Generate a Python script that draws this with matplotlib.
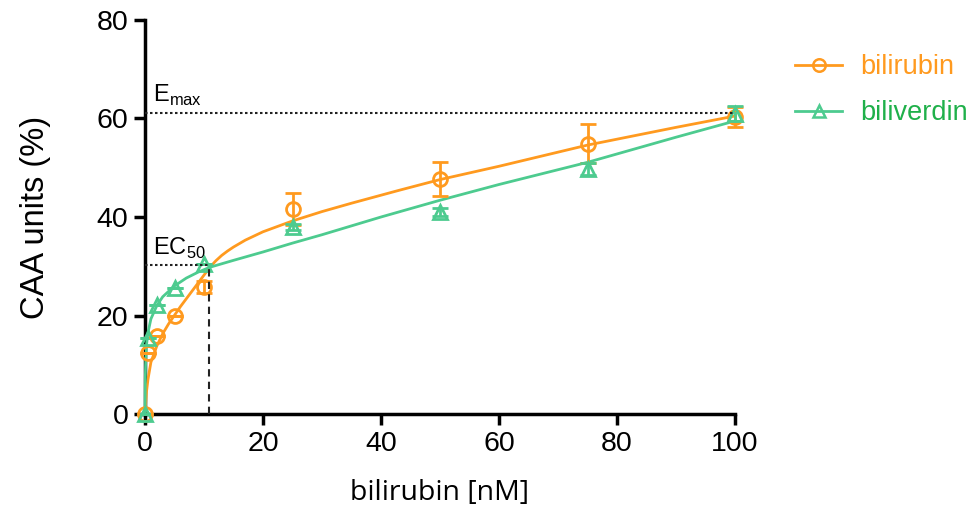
import matplotlib
matplotlib.use("Agg")
import matplotlib.pyplot as plt

# ---- data ----
conc = [0, 0.5, 2, 5, 10, 25, 50, 75, 100]
bilirubin_y = [0, 12.3, 15.8, 19.8, 25.8, 41.6, 47.7, 54.9, 60.3]
bilirubin_err = [0, 0, 0, 0, 1.3, 3.2, 3.4, 4.0, 2.1]
biliverdin_y = [0, 15.4, 22.2, 25.6, 30.5, 37.9, 41.1, 49.7, 61.0]
biliverdin_err = [0, 0, 0, 0, 0, 0.6, 0.8, 1.2, 1.6]

# fitted curves
fit_x_bilirubin = [0, 0.25, 0.5, 1, 2, 3, 4, 6, 8, 10, 11, 12, 13, 14, 15, 17, 20, 25, 30, 35, 43, 50, 60, 75, 90, 100]
fit_y_bilirubin = [0, 4.5, 7, 10.5, 13.8, 16.3, 18.3, 21.8, 25.0, 28.2, 29.8, 31.1, 32.2, 33.1, 33.9, 35.3, 37.0, 39.2, 41.1, 42.8, 45.4, 47.6, 50.3, 54.6, 58.2, 60.5]
fit_x_biliverdin = [0, 0.05, 0.1, 0.25, 0.5, 1, 2, 3, 5, 7, 9, 11, 15, 20, 25, 30, 40, 50, 60, 75, 90, 100]
fit_y_biliverdin = [0, 7, 10, 14.0, 16.5, 19.3, 22.0, 23.8, 26.0, 27.6, 28.8, 29.8, 31.2, 32.9, 34.7, 36.4, 40.0, 43.4, 46.6, 51.1, 56.2, 59.5]

emax = 61.2
ec50_x = 10.8
ec50_y = 30.3

x_ticks = [0, 20, 40, 60, 80, 100]
y_ticks = [0, 20, 40, 60, 80]

ORANGE = "#FF9A1F"
GREEN = "#4DCB8F"
GREEN_TEXT = "#1FB04A"

plt.rcParams['font.family'] = ['Liberation Sans', 'DejaVu Sans']

fig = plt.figure(figsize=(9.69, 5.11), dpi=100)
ax = fig.add_axes([145/969, 1 - 414/511, 590/969, 394/511])

# reference lines
ax.plot([0, 100], [emax, emax], ls=(0, (1.2, 1.2)), color="#222222", lw=1.5, zorder=5)
ax.plot([0, ec50_x], [ec50_y, ec50_y], ls=(0, (1.2, 1.2)), color="#222222", lw=1.5, zorder=5)
ax.plot([ec50_x, ec50_x], [0, ec50_y], ls=(0, (3.5, 2.5)), color="#222222", lw=1.5, zorder=5)

# fit lines
ax.plot(fit_x_bilirubin, fit_y_bilirubin, color=ORANGE, lw=2, zorder=3, clip_on=False)
ax.plot(fit_x_biliverdin, fit_y_biliverdin, color=GREEN, lw=2, zorder=3, clip_on=False)

# data points
eb1 = ax.errorbar(conc, bilirubin_y, yerr=bilirubin_err, fmt='o', ms=10, mfc='none',
                  mec=ORANGE, mew=2, ecolor=ORANGE, elinewidth=2, capsize=6, capthick=2,
                  zorder=4, clip_on=False)
eb2 = ax.errorbar(conc, biliverdin_y, yerr=biliverdin_err, fmt='^', ms=10, mfc='none',
                  mec=GREEN, mew=2, ecolor=GREEN, elinewidth=2, capsize=6, capthick=2,
                  zorder=4, clip_on=False)
for eb in (eb1, eb2):
    for art in eb.lines[1] + tuple(eb.lines[2]):
        art.set_clip_on(False)

# legend proxies
h1, = ax.plot([], [], color=ORANGE, lw=2, marker='o', ms=9, mfc='none', mew=1.8)
h2, = ax.plot([], [], color=GREEN, lw=2, marker='^', ms=9, mfc='none', mew=1.8)
leg = fig.legend([h1, h2], ["bilirubin", "biliverdin"], loc='upper left',
                 bbox_to_anchor=(795/969, 1 - 54/511), frameon=False, fontsize=19.5,
                 handlelength=1.75, handletextpad=0.65, labelspacing=0.75,
                 borderpad=0, borderaxespad=0)
leg.get_texts()[0].set_color(ORANGE)
leg.get_texts()[1].set_color(GREEN_TEXT)

# annotations
ax.text(1.3, emax + 1.0, r"E$_{\mathregular{max}}$", fontsize=17, ha='left', va='bottom')
ax.text(1.3, ec50_y + 0.8, r"EC$_{\mathregular{50}}$", fontsize=17, ha='left', va='bottom')

ax.set_xlim(0, 100)
ax.set_ylim(0, 80)
ax.set_xticks(x_ticks)
ax.set_yticks(y_ticks)
ax.tick_params(axis='both', which='major', labelsize=20.5, width=2.5, length=8, direction='out', pad=4)
for s in ('top', 'right'):
    ax.spines[s].set_visible(False)
for s in ('left', 'bottom'):
    ax.spines[s].set_linewidth(2.5)

ax.set_xlabel("bilirubin [nM]", fontsize=20.5, family=['Open Sans', 'DejaVu Sans'], labelpad=16)
ax.set_ylabel("CAA units (%)", fontsize=23.5, labelpad=33)

fig.savefig("out.png", dpi=100)
